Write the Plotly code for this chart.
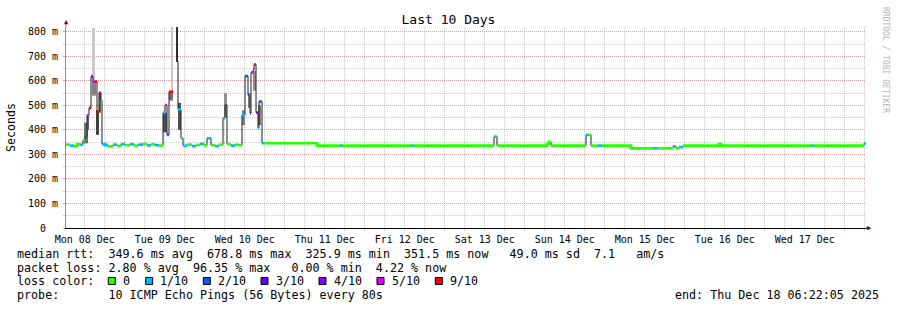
import pandas as pd
import plotly.graph_objects as go

# ---------------- data ----------------
start_time = pd.Timestamp("2025-12-08 06:22:05")
span_hours = 240

# median rtt step segments: start (hours after start), value (ms), loss class
seg_start = [0.0, 1.2, 2.4, 3.3, 4.2, 5.1, 5.7, 6.3, 6.9, 7.5, 8.1, 8.7, 9.3, 9.9,
             10.5, 10.8, 11.7, 12.6, 14.1, 15.3, 16.5, 17.7, 19.2, 20.4, 21.6, 23.1,
             24.3, 25.5, 26.7, 27.9, 29.1, 29.7, 30.3, 30.9, 32.1, 33.0, 33.6, 34.5,
             35.1, 36.3, 37.8, 39.0, 40.2, 41.4, 42.3, 43.5, 44.7, 45.9, 47.1, 47.7,
             48.3, 49.5, 50.7, 51.9, 52.8, 53.7, 54.6, 55.2, 55.5, 56.1, 56.4, 57.0,
             57.6, 57.9, 58.8, 59.4, 75.3, 82.2, 82.8, 103.5, 104.1, 128.4, 129.3,
             144.3, 144.9, 145.5, 156.0, 156.6, 157.5, 159.6, 160.8, 169.5, 176.1,
             177.3, 182.1, 183.0, 183.9, 185.1, 195.9, 196.5, 209.7, 215.4, 223.5,
             224.1, 228.3, 231.0, 239.4]
median_ms = [340, 336, 334, 342, 340, 360, 373, 460, 490, 618, 597, 597, 475, 552,
             522, 342, 338, 333, 340, 335, 342, 338, 342, 336, 340, 343,
             337, 341, 338, 336, 471, 502, 380, 556, None, 680, 484, 366,
             336, 340, 334, 339, 343, 337, 366, 338, 334, 340, 448, 502,
             342, 336, 340, 337, 461, 620, 543, 468, 634, 645, 667, 471,
             407, 516, 346, 346, 336, 336, 336, 336, 336, 373, 336,
             344, 352, 336, 380, 380, 336, 336, 336, 325, 325,
             325, 333, 326, 330, 336, 342, 336, 333, 336, 336,
             336, 333, 336, 345]
loss_class = [0, 1, 0, 0, 1, 0, 2, 5, 9, 4, 5, 9, 9, 9,
              1, 1, 1, 0, 1, 0, 1, 0, 1, 0, 1, 0,
              1, 0, 1, 0, 1, 5, 2, 9, -1, -1, 1, 1,
              1, 0, 1, 0, 1, 0, 1, 0, 1, 0, 1, -1,
              0, 1, 0, 0, 1, 2, 2, 4, 5, 9, 9, 4,
              1, 2, 1, 0, 0, 1, 0, 1, 0, 1, 0,
              0, 0, 0, 1, 0, 0, 1, 0, 0, 1,
              0, 1, 0, 1, 0, 0, 0, 0, 0, 1,
              0, 0, 0, 1]

# smoke (spread of the pings): start/end hours, low/high ms, grey shade
smoke_start = [5.4, 7.8, 7.8, 6.3, 9.0, 9.9, 29.1, 31.5, 30.9, 33.0, 33.6, 47.4, 52.8, 54.6, 56.1, 57.6]
smoke_end = [6.6, 8.7, 9.0, 6.9, 9.9, 10.5, 30.3, 32.1, 32.1, 33.6, 34.5, 48.3, 53.7, 55.2, 57.0, 58.5]
smoke_lo = [345, 563, 540, 400, 380, 470, 390, 556, 520, 680, 400, 450, 420, 490, 560, 420]
smoke_hi = [430, 816, 600, 460, 480, 550, 470, 820, 556, 820, 510, 550, 480, 550, 640, 500]
smoke_shade = ["#707070", "#c8c8c8", "#808080", "#606060", "#404040", "#606060", "#505050",
               "#c8c8c8", "#707070", "#303030", "#505050", "#909090", "#808080", "#808080",
               "#909090", "#808080"]

loss_labels = ["0", "1/10", "2/10", "3/10", "4/10", "5/10", "9/10"]
loss_keys = [0, 1, 2, 3, 4, 5, 9]
loss_colors = ["#26ff00", "#00b8ff", "#0059ff", "#5e00ff", "#7e00ff", "#dd00ff", "#ff0000"]

y_tick_vals = [0, 0.1, 0.2, 0.3, 0.4, 0.5, 0.6, 0.7, 0.8]
y_tick_text = ["0\u00a0\u00a0", "100 m", "200 m", "300 m", "400 m", "500 m", "600 m", "700 m", "800 m"]

stats_lines = [
    "median rtt:  349.6 ms avg  678.8 ms max  325.9 ms min  351.5 ms now   49.0 ms sd  7.1   am/s",
    "packet loss: 2.80 % avg  96.35 % max   0.00 % min  4.22 % now",
    "loss color:",
    "probe:       10 ICMP Echo Pings (56 Bytes) every 80s",
]
end_text = "end: Thu Dec 18 06:22:05 2025"

# ---------------- helpers ----------------
W, H = 897, 310
ML, MR, MT, MB = 66, 31, 27, 82
PW, PH = W - ML - MR, H - MT - MB
MONO = "DejaVu Sans Mono"


def t(h):
    return (start_time + pd.to_timedelta(h, unit="h")).strftime("%Y-%m-%d %H:%M:%S")


def px(x):
    return (x - ML) / PW


def py(y):
    return (H - MB - y) / PH


n = len(seg_start)
seg_end = seg_start[1:] + [span_hours]

fig = go.Figure()

# smoke
for s, e, lo, hi, c in zip(smoke_start, smoke_end, smoke_lo, smoke_hi, smoke_shade):
    fig.add_trace(go.Scatter(
        x=[t(s), t(e), t(e), t(s), t(s)],
        y=[lo / 1000, lo / 1000, hi / 1000, hi / 1000, lo / 1000],
        fill="toself", fillcolor=c, mode="lines", line=dict(width=0, color=c),
        hoverinfo="skip", showlegend=False))

# black median step line
mx, my = [], []
for s, e, v in zip(seg_start, seg_end, median_ms):
    if v is None:
        mx.append(None)
        my.append(None)
    else:
        mx += [t(s), t(e)]
        my += [v / 1000, v / 1000]
fig.add_trace(go.Scatter(x=mx, y=my, mode="lines", line=dict(color="#202020", width=1),
                         hoverinfo="skip", showlegend=False))

# coloured median by loss class (short horizontal marks; joined only for small steps)
for key, col in zip(loss_keys, loss_colors):
    cx, cy = [], []
    prev_v = None
    for i in range(n):
        v = median_ms[i]
        if loss_class[i] == key and v is not None:
            if cx and (prev_v is None or abs(v - prev_v) > 12):
                cx.append(None)
                cy.append(None)
            cx += [t(seg_start[i]), t(seg_end[i])]
            cy += [v / 1000, v / 1000]
            prev_v = v
        else:
            prev_v = None
    if cx:
        fig.add_trace(go.Scatter(x=cx, y=cy, mode="lines", line=dict(color=col, width=2.6),
                                 hoverinfo="skip", showlegend=False))

MGRID = "rgba(240,120,120,0.55)"
GRID = "rgba(170,170,170,0.6)"

fig.update_layout(
    width=W, height=H, margin=dict(l=ML, r=MR, t=MT, b=MB),
    paper_bgcolor="white", plot_bgcolor="white",
    showlegend=False,
    font=dict(family=MONO, size=10, color="black"),
    title=dict(text="Last 10 Days", x=0.5, xref="container", xanchor="center",
               y=1 - 19 / H, yref="container", yanchor="middle",
               font=dict(family=MONO, size=13, color="black")),
    xaxis=dict(
        type="date", range=[t(0), t(span_hours)],
        tickmode="linear", tick0="2025-12-08 00:00:00", dtick=86400000,
        ticklabelmode="period", tickformat="%a %d %b",
        showgrid=True, gridcolor=MGRID, griddash="1px,1px", gridwidth=1,
        ticks="outside", ticklen=2, tickcolor=MGRID,
        minor=dict(dtick=6 * 3600000, tick0="2025-12-08 00:00:00", showgrid=True,
                   gridcolor=GRID, griddash="1px,1px", gridwidth=1,
                   ticks="outside", ticklen=2, tickcolor=GRID),
        showline=True, linecolor="black", linewidth=1,
        zeroline=False, fixedrange=True,
        tickfont=dict(family=MONO, size=10, color="black"),
    ),
    yaxis=dict(
        range=[0, 0.82], tickmode="array", tickvals=y_tick_vals, ticktext=y_tick_text,
        showgrid=True, gridcolor=MGRID, griddash="1px,1px", gridwidth=1,
        ticks="outside", ticklen=2, tickcolor=MGRID, ticklabelstandoff=3,
        minor=dict(dtick=0.05, tick0=0, showgrid=True, gridcolor=GRID, griddash="1px,1px",
                   gridwidth=1, ticks="outside", ticklen=2, tickcolor=GRID),
        showline=True, linecolor="#909090", linewidth=1,
        zeroline=False, fixedrange=True,
        tickfont=dict(family=MONO, size=10, color="black"),
    ),
)

annotations = []
shapes = []

# axis arrows and extensions
shapes.append(dict(type="line", xref="paper", yref="paper", x0=0, x1=0, y0=1, y1=py(23),
                   line=dict(color="#909090", width=1)))
shapes.append(dict(type="line", xref="paper", yref="paper", x0=1, x1=px(868), y0=0, y1=0,
                   line=dict(color="black", width=1)))
annotations.append(dict(text="▲", xref="paper", yref="paper", x=0, y=py(22), showarrow=False,
                        xanchor="center", yanchor="middle",
                        font=dict(family=MONO, size=7, color="#800000")))
annotations.append(dict(text="▶", xref="paper", yref="paper", x=px(870), y=0, showarrow=False,
                        xanchor="center", yanchor="middle",
                        font=dict(family=MONO, size=7, color="#800000")))

# y axis title
annotations.append(dict(text="Seconds", xref="paper", yref="paper", x=px(11), y=py(127),
                        textangle=-90, showarrow=False, xanchor="center", yanchor="middle",
                        font=dict(family=MONO, size=11.6, color="black")))
# vertical credit
annotations.append(dict(text="RRDTOOL / TOBI OETIKER", xref="paper", yref="paper",
                        x=px(886), y=py(60), textangle=90, showarrow=False,
                        xanchor="center", yanchor="middle",
                        font=dict(family=MONO, size=8, color="#b4b4b4")))

# stats text
line_y = [254, 268, 281, 295]
for txt, ly in zip(stats_lines, line_y):
    annotations.append(dict(text=txt.replace(" ", "\u00a0"), xref="paper", yref="paper",
                            x=px(15), y=py(ly), showarrow=False, xanchor="left",
                            yanchor="middle", font=dict(family=MONO, size=11.7, color="black")))
annotations.append(dict(text=end_text.replace(" ", "\u00a0"), xref="paper", yref="paper",
                        x=px(881), y=py(295), showarrow=False, xanchor="right",
                        yanchor="middle", font=dict(family=MONO, size=11.7, color="black")))

# loss colour legend boxes + labels
box_x = [108.3, 145.7, 203.3, 261.0, 319.0, 377.0, 435.3]
for bx, lab, col in zip(box_x, loss_labels, loss_colors):
    shapes.append(dict(type="rect", xref="paper", yref="paper",
                       x0=px(bx), x1=px(bx + 7), y0=py(277.5), y1=py(284.5),
                       fillcolor=col, line=dict(color="black", width=1)))
    annotations.append(dict(text=lab, xref="paper", yref="paper", x=px(bx + 12.5), y=py(281),
                            showarrow=False, xanchor="left", yanchor="middle",
                            font=dict(family=MONO, size=11.7, color="black")))

fig.update_layout(annotations=annotations, shapes=shapes)

fig.write_html("out.html")
